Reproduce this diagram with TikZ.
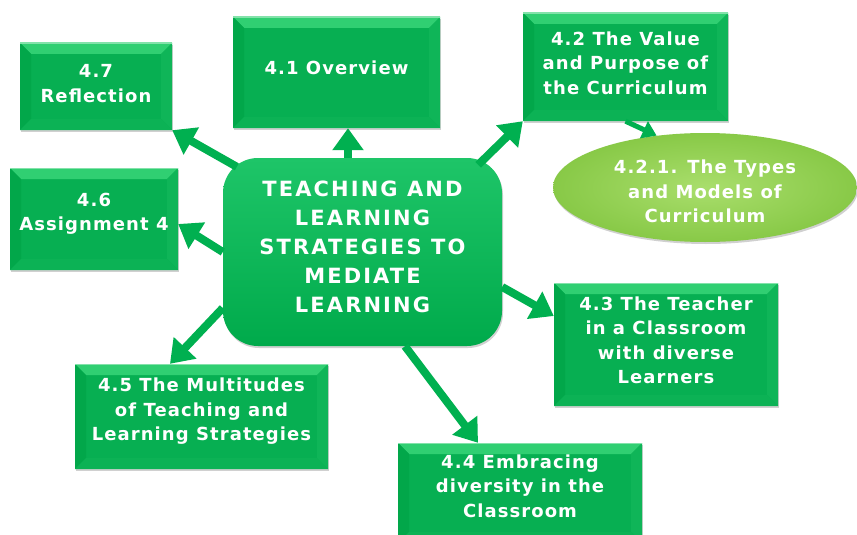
\documentclass[tikz,border=0pt]{standalone}
\usepackage{fontspec}
\newfontfamily\boxfont{DejaVu Sans}[LetterSpace=6]
\newfontfamily\bigfont{DejaVu Sans}[LetterSpace=10]
\usetikzlibrary{arrows.meta,shapes.geometric,shadows}
\definecolor{boxgreen}{HTML}{07AF52}
\definecolor{bevtop}{HTML}{30CF72}
\definecolor{bevleft}{HTML}{02A74A}
\definecolor{bevright}{HTML}{0FB558}
\definecolor{bevbot}{HTML}{0CB255}
\definecolor{arrgreen}{HTML}{00B050}
\definecolor{ellin}{HTML}{A9DE6C}
\definecolor{ellout}{HTML}{88C947}
\definecolor{ctop}{HTML}{1EC568}
\definecolor{cbot}{HTML}{00AA4B}
\tikzset{
  shad/.style={drop shadow={shadow xshift=1pt,shadow yshift=-2pt,opacity=0.3,fill=black!60}},
  bevelbox/.style={rectangle, fill=boxgreen, shad, inner sep=0pt,
    path picture={
      \coordinate (NW) at (path picture bounding box.north west);
      \coordinate (NE) at (path picture bounding box.north east);
      \coordinate (SW) at (path picture bounding box.south west);
      \coordinate (SE) at (path picture bounding box.south east);
      \fill[bevtop] (NW) -- (NE) -- ([shift={(-11pt,-11pt)}]NE) -- ([shift={(11pt,-11pt)}]NW) -- cycle;
      \fill[bevleft] (NW) -- ([shift={(11pt,-11pt)}]NW) -- ([shift={(11pt,11pt)}]SW) -- (SW) -- cycle;
      \fill[bevright] (NE) -- ([shift={(-11pt,-11pt)}]NE) -- ([shift={(-11pt,11pt)}]SE) -- (SE) -- cycle;
      \fill[bevbot] (SW) -- ([shift={(11pt,11pt)}]SW) -- ([shift={(-11pt,11pt)}]SE) -- (SE) -- cycle;
      \draw[bevtop!60!white, line width=1.5pt] (NW) -- (NE);
    }},
  txt/.style={text=white, font=\boxfont\bfseries\fontsize{18}{24.5}\selectfont, align=center},
  bigtxt/.style={text=white, font=\bigfont\bfseries\fontsize{21}{29}\selectfont, align=center},
  arr/.style={draw=arrgreen, line width=8pt, -{Triangle[length=22pt,width=30pt]}},
  smallarr/.style={draw=arrgreen, line width=5pt, -{Triangle[length=14pt,width=18pt]}},
}
\begin{document}
\begin{tikzpicture}[x=1pt,y=-1pt]
\useasboundingbox (0,0) rectangle (857,535);
\fill[white] (0,0) rectangle (857,535);

% boxes
\node[bevelbox, minimum width=152pt, minimum height=87pt,
  label={[txt,yshift=3pt]center:4.7\\Reflection}] (r47) at (96,86.5) {};
\node[bevelbox, minimum width=207pt, minimum height=111pt,
  label={[txt,yshift=5pt]center:4.1 Overview}] (r41) at (336.5,72.5) {};
\node[bevelbox, minimum width=168pt, minimum height=102pt,
  label={[txt,yshift=5pt]center:4.6\\Assignment 4}] (r46) at (94,219) {};
\node[bevelbox, minimum width=205pt, minimum height=108pt,
  label={[txt,yshift=4pt]center:4.2 The Value\\and Purpose of\\the Curriculum}] (r42) at (625.5,67) {};
\node[ellipse, shad, inner color=ellin, outer color=ellout, minimum width=304pt, minimum height=109pt,
  label={[txt,yshift=-4pt]center:4.2.1. The Types\\and Models of\\Curriculum}] (e421) at (705,187.5) {};
\node[bevelbox, minimum width=253pt, minimum height=105pt,
  label={[txt,yshift=5pt]center:4.5 The Multitudes\\of Teaching and\\Learning Strategies}] (r45) at (201.5,416.5) {};
\node[bevelbox, minimum width=224pt, minimum height=123pt,
  label={[txt,yshift=4pt]center:4.3 The Teacher\\in a Classroom\\with diverse\\Learners}] (r43) at (666,344.5) {};
\node[bevelbox, minimum width=244pt, minimum height=100pt,
  label={[txt,yshift=7pt]center:4.4 Embracing\\diversity in the\\Classroom}] (r44) at (520,493) {};

% central node
\node[rectangle, rounded corners=35pt, shad, top color=ctop, bottom color=cbot,
  minimum width=279pt, minimum height=188pt,
  label={[bigtxt,yshift=5pt]center:TEACHING AND\\LEARNING\\STRATEGIES TO\\MEDIATE\\LEARNING}] (c) at (362.5,252) {};

% connectors
\draw[arr] ([xshift=14pt,yshift=-9pt]c.north west) -- (r47.south east);
\draw[arr] ([xshift=-14.5pt]c.north) -- ([xshift=11.5pt]r41.south);
\draw[arr] ([xshift=-24pt,yshift=-7pt]c.north east) -- (r42.south west);
\draw[smallarr] (r42.south) -- (e421.133);
\draw[arr] (c.west) -- ([yshift=-5pt]r46.east);
\draw[arr] ([yshift=-56pt]c.west) -- ([xshift=-31.5pt]r45.north);
\draw[arr] ([xshift=42.5pt]c.south) -- ([xshift=-42pt]r44.north);
\draw[arr] ([yshift=-35pt]c.east) -- ([yshift=28.5pt]r43.west);
\end{tikzpicture}
\end{document}
